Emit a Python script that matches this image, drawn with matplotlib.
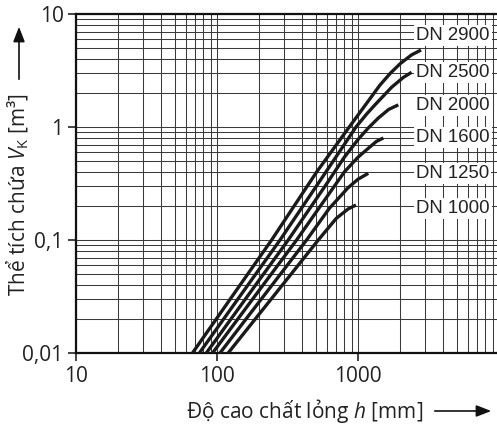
import matplotlib
matplotlib.use("Agg")
import matplotlib.pyplot as plt
from matplotlib.ticker import FixedLocator, FixedFormatter, LogLocator, NullFormatter

plt.rcParams['font.family'] = ['Open Sans', 'DejaVu Sans']
plt.rcParams['mathtext.fontset'] = 'custom'
plt.rcParams['mathtext.rm'] = 'Open Sans'
plt.rcParams['mathtext.it'] = 'Open Sans:italic'

# ---- data ----
series_names = ["DN 2900", "DN 2500", "DN 2000", "DN 1600", "DN 1250", "DN 1000"]

h_dn2900 = [67, 244, 509, 867, 1100, 1432, 1700, 2000, 2400, 2800]
v_dn2900 = [0.01, 0.1, 0.40, 1.0, 1.5, 2.35, 3.0, 3.65, 4.35, 4.8]

h_dn2500 = [75, 280, 600, 968, 1150, 1319, 1733, 2100, 2400]
v_dn2500 = [0.01, 0.1, 0.41, 1.0, 1.3, 1.57, 2.25, 2.75, 3.05]

h_dn2000 = [84, 320, 600, 800, 1005, 1183, 1393, 1650, 1932]
v_dn2000 = [0.01, 0.1, 0.315, 0.54, 0.78, 0.98, 1.2, 1.43, 1.57]

h_dn1600 = [93, 367, 600, 800, 1000, 1153, 1350, 1514]
v_dn1600 = [0.01, 0.1, 0.24, 0.40, 0.54, 0.63, 0.745, 0.80]

h_dn1250 = [105, 432, 625, 850, 1000, 1183]
v_dn1250 = [0.01, 0.1, 0.19, 0.29, 0.345, 0.389]

h_dn1000 = [120, 523, 700, 850, 968]
v_dn1000 = [0.01, 0.1, 0.155, 0.188, 0.204]

label_y = [6.5, 3.05, 1.55, 0.80, 0.39, 0.19]

x_ticks = [10, 100, 1000]
x_ticklabels = ["10", "100", "1000"]
y_ticks = [0.01, 0.1, 1, 10]
y_ticklabels = ["0,01", "0,1", "1", "10"]

xs = [h_dn2900, h_dn2500, h_dn2000, h_dn1600, h_dn1250, h_dn1000]
vs = [v_dn2900, v_dn2500, v_dn2000, v_dn1600, v_dn1250, v_dn1000]

# ---- figure ----
W, H = 497, 429
fig = plt.figure(figsize=(W / 100, H / 100), dpi=100)
ax = fig.add_axes([76 / W, 1 - 353 / H, 1 - 76 / W, (353 - 14) / H])
ax.set_xscale('log')
ax.set_yscale('log')
ax.set_xlim(10, 9680)
ax.set_ylim(0.01, 10)

ax.xaxis.set_major_locator(FixedLocator(x_ticks))
ax.xaxis.set_major_formatter(FixedFormatter(x_ticklabels))
ax.yaxis.set_major_locator(FixedLocator(y_ticks))
ax.yaxis.set_major_formatter(FixedFormatter(y_ticklabels))
ax.xaxis.set_minor_locator(LogLocator(base=10, subs=range(2, 10), numticks=20))
ax.yaxis.set_minor_locator(LogLocator(base=10, subs=range(2, 10), numticks=20))
ax.xaxis.set_minor_formatter(NullFormatter())
ax.yaxis.set_minor_formatter(NullFormatter())

ax.grid(True, which='both', color='#3a3a3a', linewidth=0.75)
ax.tick_params(which='minor', length=0)
ax.tick_params(which='major', length=6, width=1.2, color='#222222',
               labelsize=15, pad=3, labelcolor='#222222')

for s in ['left', 'top', 'bottom']:
    ax.spines[s].set_linewidth(1.6)
    ax.spines[s].set_color('#111111')
ax.spines['right'].set_visible(False)

for hx, vy in zip(xs, vs):
    ax.plot(hx, vy, color='#1a1a1a', linewidth=2.4, solid_capstyle='butt',
            solid_joinstyle='round', zorder=3)

for name, ly in zip(series_names, label_y):
    ax.text(0.808, ly, name, transform=ax.get_yaxis_transform(),
            family=['Liberation Sans', 'DejaVu Sans'], fontsize=13.4,
            color='#222222', ha='left', va='center', zorder=5,
            bbox=dict(facecolor='white', edgecolor='none', pad=1.5))

# axis labels with arrows
fig.text(18 / W, 1 - 194 / H, "Thể tích chứa $V_\\mathrm{K}$ [m³]", rotation=90,
         ha='center', va='center', fontsize=15, color='#222222')
fig.text(305 / W, 1 - 411 / H, "Độ cao chất lỏng $h$ [mm]",
         ha='center', va='center', fontsize=15, color='#222222')

fig.add_artist(matplotlib.patches.FancyArrowPatch(
    (19 / W, 1 - 82 / H), (19 / W, 1 - 24 / H), transform=fig.transFigure,
    arrowstyle='-|>,head_length=9,head_width=3.5', color='#111111', linewidth=1.2,
    mutation_scale=1))
fig.add_artist(matplotlib.patches.FancyArrowPatch(
    (432 / W, 1 - 411 / H), (494 / W, 1 - 411 / H), transform=fig.transFigure,
    arrowstyle='-|>,head_length=9,head_width=3.5', color='#111111', linewidth=1.2,
    mutation_scale=1))

fig.savefig("out.png", dpi=100)
